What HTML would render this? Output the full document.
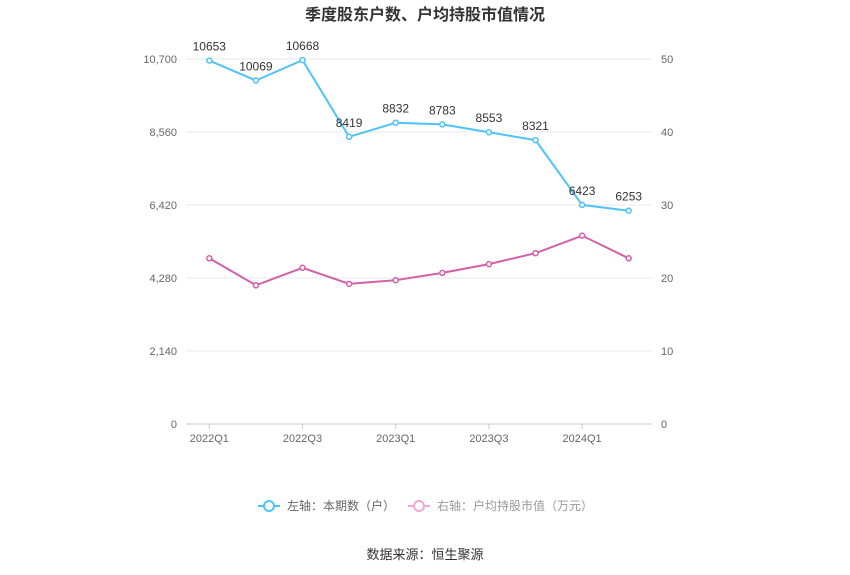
<!DOCTYPE html>
<html><head><meta charset="utf-8"><style>
body{margin:0;background:#fff;width:850px;height:575px;overflow:hidden;font-family:"Liberation Sans","Noto Sans CJK SC",sans-serif}
</style></head><body>
<svg id="c" width="850" height="575" style="position:absolute;left:0;top:0;font-family:'Liberation Sans','Noto Sans CJK SC',sans-serif"></svg>
<script>
const categories=["2022Q1","2022Q2","2022Q3","2022Q4","2023Q1","2023Q2","2023Q3","2023Q4","2024Q1","2024Q2"];
const holders=[10653,10069,10668,8419,8832,8783,8553,8321,6423,6253];
const avgValue=[22.7,19.0,21.4,19.2,19.7,20.7,21.9,23.4,25.8,22.7];
const leftTicks=[0,2140,4280,6420,8560,10700];
const leftTickLabels=["0","2,140","4,280","6,420","8,560","10,700"];
const rightTicks=[0,10,20,30,40,50];
const xTickLabels=["2022Q1","2022Q3","2023Q1","2023Q3","2024Q1"];
const xTickIdx=[0,2,4,6,8];
const NS="http://www.w3.org/2000/svg";
const svg=document.getElementById('c');
const X0=186,X1=652,Y0=424,Y1=59;
const step=(X1-X0)/categories.length;
const x=i=>X0+step*(i+0.5);
const yL=v=>Y0-(v/10700)*(Y0-Y1);
const yR=v=>Y0-(v/50)*(Y0-Y1);
function el(t,a,txt){const e=document.createElementNS(NS,t);for(const k in a)e.setAttribute(k,a[k]);if(txt!==undefined)e.textContent=txt;svg.appendChild(e);return e;}
let t=el('text',{x:425,y:20,'text-anchor':'middle','font-size':16,'font-weight':'bold',fill:'#333'},'季度股东户数、户均持股市值情况');


leftTicks.forEach((v,i)=>{
  if(v>0){const g=el('line',{x1:X0,x2:X1,y1:yL(v),y2:yL(v),stroke:'#e6e9f0'});
  
  }
  const l=el('text',{x:177,y:yL(v)+4,'text-anchor':'end','font-size':11,fill:'#666'},leftTickLabels[i]);
  
  
});
rightTicks.forEach(v=>{
  const l=el('text',{x:661,y:yR(v)+4,'font-size':11,fill:'#666'},String(v));
  
  
});
let ax=el('line',{x1:X0,x2:X1,y1:Y0,y2:Y0,stroke:'#ccc'});


xTickIdx.forEach((idx,i)=>{
  const m=el('line',{x1:x(idx),x2:x(idx),y1:Y0,y2:Y0+5,stroke:'#ccc'});
  
  
  const l=el('text',{x:x(idx),y:Y0+18,'text-anchor':'middle','font-size':11,fill:'#666'},xTickLabels[i]);
  
  
});
function series(vals,yf,color,name,labels){
  const p=el('polyline',{points:vals.map((v,i)=>x(i)+','+yf(v)).join(' '),fill:'none',stroke:color,'stroke-width':2});
  
  
  vals.forEach((v,i)=>{
    const c=el('circle',{cx:x(i),cy:yf(v),r:2.5,fill:'#fff',stroke:color,'stroke-width':1.5});
    
    
    if(labels){const l=el('text',{x:x(i),y:yf(v)-10,'text-anchor':'middle','font-size':12,fill:'#333'},String(v));
    
    }
  });
}
series(holders,yL,'#4fc3f7','holders',true);
series(avgValue,yR,'#d45fa8','avg-value',false);
function legend(lx,color,text,tc,name){
  const g=el('line',{x1:lx,x2:lx+22,y1:506,y2:506,stroke:color,'stroke-width':2});
  
  
  const c=el('circle',{cx:lx+11,cy:506,r:5,fill:'#fff',stroke:color,'stroke-width':2});
  
  
  const l=el('text',{x:lx+29,y:510,'font-size':12,fill:tc},text);
  
  
}
legend(258,'#4fc3f7','左轴：本期数（户）','#666','legend-holders');
legend(408,'#f0a8d4','右轴：户均持股市值（万元）','#999','legend-avg-value');
let s=el('text',{x:425,y:559,'text-anchor':'middle','font-size':13,fill:'#333'},'数据来源：恒生聚源');


</script>
</body></html>
